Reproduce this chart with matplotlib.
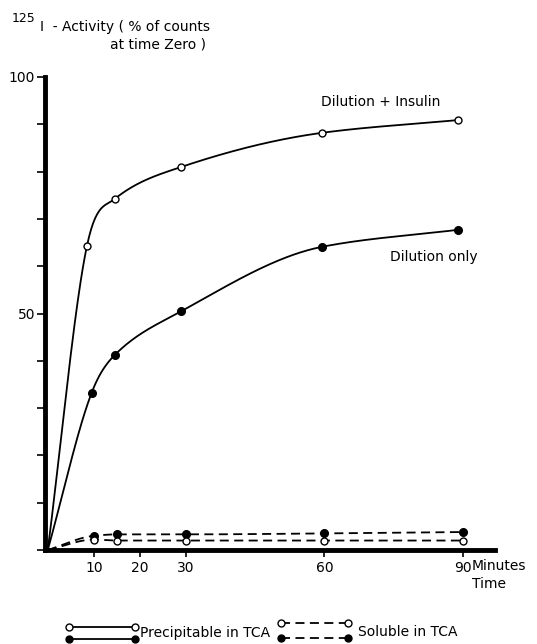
import numpy as np
import matplotlib
matplotlib.use("Agg")
import matplotlib.pyplot as plt

plt.rcParams['font.family'] = ['DejaVu Sans']

# ---- data ----
t_prec_ins = [8.5, 14.5, 29, 59.5, 89]          # Dilution + Insulin, precipitable (open)
v_prec_ins = [64.3, 74.2, 81.0, 88.2, 90.9]
t_prec_dil = [9.5, 14.5, 29, 59.5, 89]          # Dilution only, precipitable (filled)
v_prec_dil = [33.2, 41.2, 50.5, 64.1, 67.7]
t_sol = [10, 15, 30, 60, 90]                    # soluble in TCA
v_sol_ins = [2.2, 2.0, 2.0, 2.0, 2.0]           # open
v_sol_dil = [3.0, 3.3, 3.3, 3.5, 3.8]           # filled
xticks = [10, 20, 30, 60, 90]
yticks = [0, 10, 20, 30, 40, 50, 60, 70, 80, 90, 100]
ylabels = {50: '50', 100: '100'}

W, H = 537, 644
FS = 10


def hermite(x, y, knee=False, n=400):
    x = np.asarray(x, float); y = np.asarray(y, float)
    h = np.diff(x); d = np.diff(y) / h
    m = np.zeros_like(y)
    for k in range(1, len(x) - 1):
        if d[k - 1] * d[k] > 0:
            w1 = 2 * h[k] + h[k - 1]; w2 = h[k] + 2 * h[k - 1]
            m[k] = (w1 + w2) / (w1 / d[k - 1] + w2 / d[k])
    m[0] = d[0]; m[-1] = d[-1]
    if knee:
        m[1] = 0.5 * (d[0] + d[1])
    xs = np.linspace(x[0], x[-1], n)
    idx = np.clip(np.searchsorted(x, xs) - 1, 0, len(h) - 1)
    tt = (xs - x[idx]) / h[idx]
    h00 = 2 * tt**3 - 3 * tt**2 + 1; h10 = tt**3 - 2 * tt**2 + tt
    h01 = -2 * tt**3 + 3 * tt**2; h11 = tt**3 - tt**2
    ys = h00 * y[idx] + h10 * h[idx] * m[idx] + h01 * y[idx + 1] + h11 * h[idx] * m[idx + 1]
    return xs, ys


fig = plt.figure(figsize=(W / 100, H / 100), dpi=100)
x0, x1 = 45, 495
yb, yt = 550, 77
ax = fig.add_axes([x0 / W, 1 - yb / H, (x1 - x0) / W, (yb - yt) / H])
ax.set_xlim(-0.6, 97)
ax.set_ylim(0, 100)


def curve(t, v, ls, filled, knee):
    xs, ys = hermite([0] + list(t), [0] + list(v), knee=knee)
    kw = dict(color='black', lw=1.3, clip_on=False, zorder=2)
    if ls == '--':
        ax.plot(xs, ys, ls='--', dashes=(5, 3), **kw)
    else:
        ax.plot(xs, ys, ls='-', **kw)
    ax.plot(t, v, ls='none', marker='o', ms=5.5 if filled else 5,
            mfc='black' if filled else 'white', mec='black', mew=1.0, clip_on=False, zorder=3)


curve(t_prec_ins, v_prec_ins, '-', False, True)
curve(t_prec_dil, v_prec_dil, '-', True, True)
curve(t_sol, v_sol_dil, '--', True, False)
curve(t_sol, v_sol_ins, '--', False, False)

for s in ['top', 'right']:
    ax.spines[s].set_visible(False)
ax.spines['left'].set_linewidth(3.5)
ax.spines['bottom'].set_linewidth(3.5)

ax.set_xticks(xticks)
ax.set_xticklabels([str(v) for v in xticks], fontsize=FS)
ax.set_yticks(yticks)
ax.set_yticklabels([ylabels.get(v, '') for v in yticks], fontsize=FS)
ax.tick_params(axis='y', direction='out', length=6, width=1.2, pad=1)
ax.tick_params(axis='x', direction='out', length=5, width=1.2, pad=3)


def ftext(x, y, s, **kw):
    fig.text(x / W, 1 - y / H, s, **kw)


ftext(12, 18, '125', fontsize=9, va='center', ha='left')
ftext(40, 27, 'I  - Activity ( % of counts', fontsize=FS, va='center', ha='left')
ftext(110, 45, 'at time Zero )', fontsize=FS, va='center', ha='left')
ftext(321, 102, 'Dilution + Insulin', fontsize=FS, va='center', ha='left')
ftext(390, 257, 'Dilution only', fontsize=FS, va='center', ha='left')
ftext(472, 566, 'Minutes', fontsize=FS, va='center', ha='left')
ftext(472, 584, 'Time', fontsize=FS, va='center', ha='left')


def leg_line(xa, xb, y, ls, filled):
    line = plt.Line2D([xa / W, xb / W], [1 - y / H, 1 - y / H], transform=fig.transFigure,
                      color='black', lw=1.3, ls=ls, marker='o', ms=5,
                      mfc='black' if filled else 'white', mec='black', mew=1.0)
    if ls == '--':
        line.set_dashes((5, 3))
    fig.add_artist(line)


leg_line(69, 135, 627, '-', False)
leg_line(69, 135, 639, '-', True)
leg_line(281, 348, 623, '--', False)
leg_line(281, 348, 638, '--', True)
ftext(140, 633, 'Precipitable in TCA', fontsize=FS, va='center', ha='left')
ftext(358, 632, 'Soluble in TCA', fontsize=FS, va='center', ha='left')

fig.savefig('out.png', dpi=100)
